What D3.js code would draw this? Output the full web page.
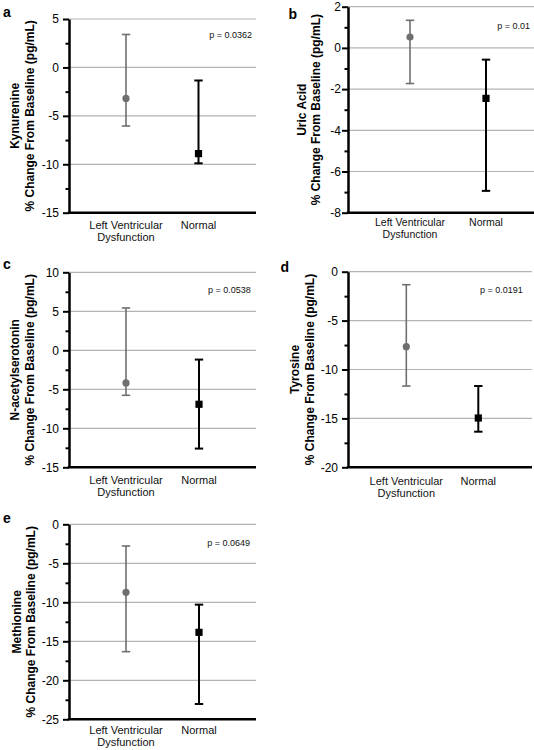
<!DOCTYPE html>
<html><head><meta charset="utf-8">
<script src="https://cdn.jsdelivr.net/npm/d3@7"></script>
<style>body{margin:0;background:#fff}svg{display:block}text{font-family:"Liberation Sans",Arial,sans-serif}</style>
</head><body>
<svg id="chart" width="534" height="750"></svg>
<script>
// ---- data ----
const panelLetters = ["a", "b", "c", "d", "e"];
const metabolites = ["Kynurenine", "Uric Acid", "N-acetylserotonin", "Tyrosine", "Methionine"];
const yAxisUnit = "% Change From Baseline (pg/mL)";
const pLabels = ["p = 0.0362", "p = 0.01", "p = 0.0538", "p = 0.0191", "p = 0.0649"];
const categories = ["Left Ventricular Dysfunction", "Normal"];
const categoryLines = [["Left Ventricular", "Dysfunction"], ["Normal"]];
const yMin = [-15, -8, -15, -20, -25];
const yMax = [5, 2, 10, 0, 0];
const yStep = [5, 2, 5, 5, 5];
const lvdMean = [-3.2, 0.53, -4.18, -7.67, -8.72];
const lvdHigh = [3.4, 1.34, 5.43, -1.33, -2.78];
const lvdLow = [-6.05, -1.73, -5.77, -11.69, -16.33];
const normalMean = [-8.9, -2.45, -6.92, -14.96, -13.85];
const normalHigh = [-1.35, -0.57, -1.19, -11.69, -10.3];
const normalLow = [-9.9, -6.94, -12.6, -16.36, -23.04];

// ---- layout ----
const layout = [
  {ax: 69, right: 256, top: 19, bottom: 212.7, cx: [126, 198.5], lab: [19, 34], tickOff: 10, catFont: 11, catDy: [16.5, 28.5], pX: 252, pY: 38, letX: 3, letY: 17},
  {ax: 348, right: 534, top: 6.7, bottom: 212.7, cx: [410, 486], lab: [306, 319.5], tickOff: 7, catFont: 10.5, catDy: [13.5, 25], pX: 530, pY: 29, letX: 288.5, letY: 19},
  {ax: 69, right: 256, top: 272.3, bottom: 467.3, cx: [126, 199], lab: [19, 34], tickOff: 10, catFont: 11, catDy: [16.7, 28.7], pX: 250.7, pY: 292.5, letX: 3, letY: 269},
  {ax: 348, right: 532, top: 271.7, bottom: 467.3, cx: [406.3, 478.3], lab: [298.5, 313.5], tickOff: 10, catFont: 11, catDy: [17.5, 29.5], pX: 522.7, pY: 292.5, letX: 280.5, letY: 272},
  {ax: 69, right: 256, top: 524.3, bottom: 719.3, cx: [126, 199], lab: [21, 35], tickOff: 10, catFont: 11, catDy: [15, 27], pX: 250, pY: 545.5, letX: 3, letY: 523}
];

const svg = d3.select("#chart");
const grey = "#6f6f6f";

panelLetters.forEach((letter, i) => {
  const L = layout[i];
  const g = svg.append("g");
  const y = d3.scaleLinear().domain([yMin[i], yMax[i]]).range([L.bottom, L.top]);
  const x = d3.scalePoint().domain(categories).range(L.cx);
  const majors = d3.range(yMin[i], yMax[i] + yStep[i] / 2, yStep[i]);
  const minors = d3.range(yMin[i] + yStep[i] / 2, yMax[i], yStep[i]);

  // gridlines
  g.selectAll(".grid").data(majors.filter(v => v !== yMin[i])).join("line")
    .attr("x1", L.ax).attr("x2", L.right)
    .attr("y1", d => y(d)).attr("y2", d => y(d))
    .attr("stroke", "#b4b4b4").attr("stroke-width", 1.2);

  // minor ticks
  const minorAxis = g.append("g").attr("transform", `translate(${L.ax},0)`)
    .call(d3.axisLeft(y).tickValues(minors).tickSize(3.5).tickSizeOuter(0).tickFormat(""));
  minorAxis.select(".domain").remove();
  minorAxis.selectAll("line").attr("stroke", "#000").attr("stroke-width", 2);

  // major axis
  const yAxis = g.append("g").attr("transform", `translate(${L.ax},0)`)
    .call(d3.axisLeft(y).tickValues(majors).tickSize(6).tickSizeOuter(0).tickPadding(L.tickOff - 6).tickFormat(d3.format("d")));
  yAxis.select(".domain").attr("stroke", "#000").attr("stroke-width", 2.5);
  yAxis.selectAll(".tick line").attr("stroke", "#000").attr("stroke-width", 2);
  yAxis.selectAll(".tick text").attr("font-size", 12).attr("fill", "#000")
    .attr("font-family", '"Liberation Sans",Arial,sans-serif').text(d => d3.format("d")(d).replace("−", "-"));

  // x axis baseline
  g.append("line").attr("x1", L.ax - 1.2).attr("x2", L.right)
    .attr("y1", y(yMin[i])).attr("y2", y(yMin[i]))
    .attr("stroke", "#000").attr("stroke-width", 2.5);

  // category labels
  categories.forEach((c, ci) => {
    categoryLines[ci].forEach((ln, li) => {
      g.append("text").attr("x", x(c)).attr("y", L.bottom + L.catDy[li])
        .attr("text-anchor", "middle").attr("font-size", L.catFont).attr("fill", "#111").text(ln);
    });
  });

  // y label
  const cy = (L.top + L.bottom) / 2;
  g.append("text").attr("transform", `translate(${L.lab[0]},${cy}) rotate(-90)`)
    .attr("text-anchor", "middle").attr("font-size", 12).attr("font-weight", "bold").text(metabolites[i]);
  g.append("text").attr("transform", `translate(${L.lab[1]},${cy}) rotate(-90)`)
    .attr("text-anchor", "middle").attr("font-size", 12).attr("font-weight", "bold").text(yAxisUnit);

  // panel letter
  g.append("text").attr("x", L.letX).attr("y", L.letY)
    .attr("font-size", 14).attr("font-weight", "bold").text(letter);

  // p value
  g.append("text").attr("x", L.pX).attr("y", L.pY).attr("text-anchor", "end")
    .attr("font-size", 9).attr("fill", "#111").text(pLabels[i]);

  // error bars
  const series = [
    {cat: categories[0], mean: lvdMean[i], lo: lvdLow[i], hi: lvdHigh[i], color: grey, w: 1.6},
    {cat: categories[1], mean: normalMean[i], lo: normalLow[i], hi: normalHigh[i], color: "#000", w: 2}
  ];
  series.forEach(s => {
    const cxp = x(s.cat);
    g.append("line").attr("x1", cxp).attr("x2", cxp).attr("y1", y(s.lo)).attr("y2", y(s.hi))
      .attr("stroke", s.color).attr("stroke-width", s.w);
    [s.lo, s.hi].forEach(v => {
      g.append("line").attr("x1", cxp - 4.2).attr("x2", cxp + 4.2).attr("y1", y(v)).attr("y2", y(v))
        .attr("stroke", s.color).attr("stroke-width", s.w);
    });
  });
  // markers
  g.append("circle").attr("cx", x(categories[0])).attr("cy", y(lvdMean[i])).attr("r", 3.6).attr("fill", grey);
  g.append("rect").attr("x", x(categories[1]) - 3.6).attr("y", y(normalMean[i]) - 3.6)
    .attr("width", 7.2).attr("height", 7.2).attr("fill", "#000");
});
</script>
</body></html>
